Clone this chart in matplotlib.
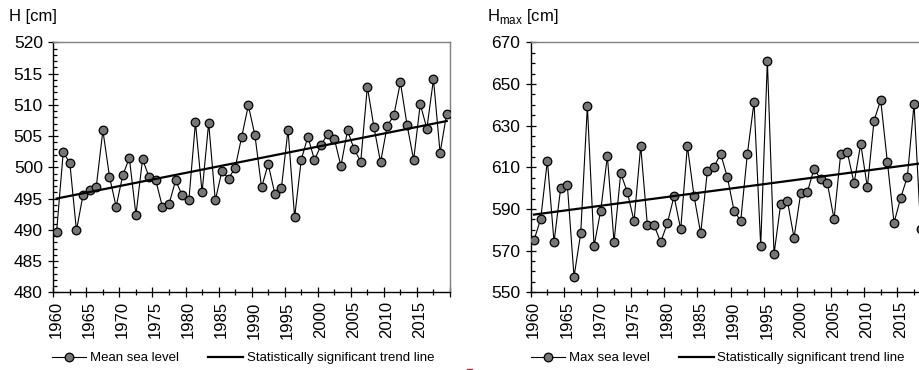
import matplotlib
matplotlib.use("Agg")
import matplotlib.pyplot as plt
from matplotlib.ticker import FixedLocator, MultipleLocator
from matplotlib.transforms import ScaledTranslation
from matplotlib.lines import Line2D

plt.rcParams['font.family'] = ['Liberation Sans', 'DejaVu Sans']

years = list(range(1960, 2020))
mean_level = [489.7, 502.4, 500.7, 489.9, 495.6, 496.4, 496.9, 505.9, 498.5, 493.7,
              498.7, 501.5, 492.4, 501.3, 498.4, 497.9, 493.7, 494.1, 497.9, 495.5,
              494.7, 507.2, 496.0, 507.1, 494.7, 499.4, 498.2, 499.9, 504.9, 509.9,
              505.1, 496.8, 500.5, 495.8, 496.7, 506.0, 492.0, 501.2, 504.9, 501.2,
              503.5, 505.4, 504.6, 500.2, 505.9, 502.9, 500.9, 512.9, 506.4, 500.8,
              506.6, 508.3, 513.6, 506.8, 501.2, 510.1, 506.2, 514.1, 502.3, 508.6]

max_years = list(range(1960, 2019))
max_level = [575.1, 585.2, 613.2, 574.1, 600.1, 601.3, 557.5, 578.3, 639.4, 572.2,
             589.2, 615.4, 574.1, 607.1, 598.1, 584.1, 620.2, 582.2, 582.2, 574.1,
             583.1, 596.2, 580.2, 620.2, 596.2, 578.3, 608.1, 610.3, 616.4, 605.2,
             589.2, 584.2, 616.4, 641.3, 572.2, 661.2, 568.4, 592.4, 594.0, 576.2,
             597.5, 598.1, 609.3, 604.2, 602.3, 585.2, 616.4, 617.2, 602.3, 621.3,
             600.4, 632.4, 642.3, 612.5, 583.4, 595.3, 605.5, 640.4, 580.2]

trend_years = [1960, 2019]
trend_mean = [495.0, 507.4]
trend_max = [587.3, 612.3]

year_labels = ['1960', '1965', '1970', '1975', '1980', '1985',
               '1990', '1995', '2000', '2005', '2010', '2015', '']
mean_yticks = [480, 485, 490, 495, 500, 505, 510, 515, 520]
max_yticks = [550, 570, 590, 610, 630, 650, 670]

W, H = 920, 370
fig = plt.figure(figsize=(W / 100, H / 100), dpi=100)

def px_axes(x0, y0, x1, y1):
    return fig.add_axes([x0 / W, 1 - y1 / H, (x1 - x0) / W, (y1 - y0) / H])

ax1 = px_axes(53.3, 42.3, 450.0, 292.3)
ax2 = px_axes(530.7, 42.3, 930.7, 292.3)
ytrend = {ax1: trend_mean, ax2: trend_max}

def style(ax, ylim, yticks, yminor, xs, ys):
    ax.plot(xs, ys, color='black', lw=0.8, marker='o', ms=6.2,
            mfc='#767676', mec='black', mew=0.9, zorder=3)
    ax.plot(trend_years, ytrend[ax], color='black', lw=1.6, zorder=4)
    ax.set_xlim(1959.5, 2019.5)
    ax.set_ylim(*ylim)
    major = [1959.5 + 5 * k for k in range(len(year_labels))]
    ax.xaxis.set_major_locator(FixedLocator(major))
    ax.set_xticklabels(year_labels, rotation=90, fontsize=12)
    ax.xaxis.set_minor_locator(FixedLocator([m + 2.5 for m in major[:-1]]))
    ax.set_yticks(yticks)
    ax.set_yticklabels([str(v) for v in yticks], fontsize=12.5)
    ax.yaxis.set_minor_locator(MultipleLocator(yminor))
    ax.tick_params(axis='x', which='major', direction='inout', length=7, width=0.9, pad=3)
    ax.tick_params(axis='x', which='minor', direction='inout', length=4, width=0.9)
    ax.tick_params(axis='y', which='major', direction='inout', length=7, width=0.9, pad=4)
    ax.tick_params(axis='y', which='minor', direction='in', length=3, width=0.9)
    for s in ('top', 'right'):
        ax.spines[s].set_color('#7f7f7f')
        ax.spines[s].set_linewidth(1.0)
    for s in ('left', 'bottom'):
        ax.spines[s].set_color('black')
        ax.spines[s].set_linewidth(1.0)
    off = ScaledTranslation(3 / 100, 0, fig.dpi_scale_trans)
    for lab in ax.get_xticklabels():
        lab.set_transform(lab.get_transform() + off)

style(ax1, (480, 520), mean_yticks, 1, years, mean_level)
style(ax2, (550, 670), max_yticks, 5, max_years, max_level)

fig.text(9 / W, 1 - 17 / H, 'H [cm]', fontsize=12, va='center', ha='left')
fig.text(487 / W, 1 - 17 / H, r'H$_{\mathregular{max}}$ [cm]', fontsize=12, va='center', ha='left')

def legend_handles(label):
    h1 = Line2D([], [], color='black', lw=0.8, marker='o', ms=6.2,
                mfc='#767676', mec='black', mew=0.9)
    h2 = Line2D([], [], color='black', lw=1.6)
    return [h1, h2], [label, 'Statistically significant trend line']

for x_c, label in ((243 / W, 'Mean sea level'), (718 / W, 'Max sea level')):
    hs, ls = legend_handles(label)
    fig.legend(hs, ls, loc='center', bbox_to_anchor=(x_c, 1 - 358 / H), ncol=2,
               frameon=False, fontsize=9.5, handlelength=2.6, handletextpad=0.3,
               columnspacing=2.2, borderpad=0)

# small red dash present at the bottom edge of the reference
fig.add_artist(Line2D([467 / W, 472 / W], [1 - 369 / H, 1 - 369 / H],
                      color='#a03040', lw=1.0, transform=fig.transFigure))

fig.savefig('out.png', dpi=100)
